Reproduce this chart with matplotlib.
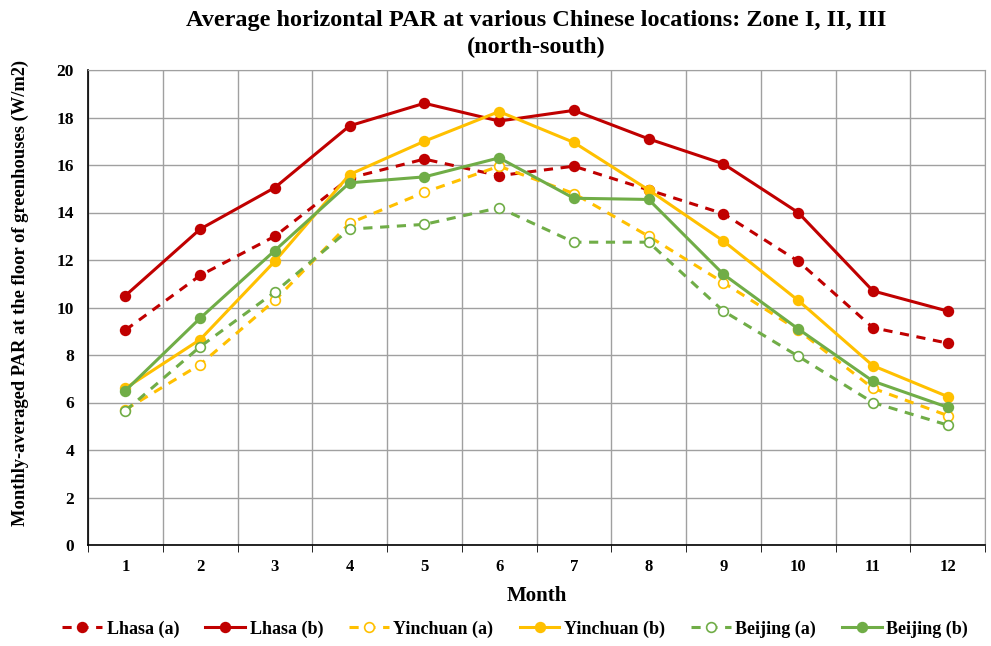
import numpy as np
from matplotlib import pyplot as plt

plt.rcParams['font.family'] = ['Liberation Serif', 'DejaVu Serif']
plt.rcParams['font.weight'] = 'bold'

months = np.arange(1, 13)
lhasa_a = [9.05, 11.35, 13.0, 15.45, 16.25, 15.55, 15.95, 14.95, 13.95, 11.95, 9.15, 8.5]
lhasa_b = [10.5, 13.3, 15.05, 17.65, 18.6, 17.85, 18.3, 17.1, 16.05, 14.0, 10.7, 9.85]
yinchuan_a = [5.7, 7.6, 10.3, 13.55, 14.85, 15.95, 14.8, 13.0, 11.05, 9.05, 6.6, 5.45]
yinchuan_b = [6.6, 8.65, 11.95, 15.6, 17.0, 18.25, 16.95, 14.95, 12.8, 10.3, 7.55, 6.25]
beijing_a = [5.65, 8.35, 10.65, 13.3, 13.5, 14.2, 12.75, 12.75, 9.85, 7.95, 6.0, 5.05]
beijing_b = [6.5, 9.55, 12.4, 15.25, 15.5, 16.3, 14.6, 14.55, 11.4, 9.1, 6.9, 5.8]

red = '#C00000'
yellow = '#FFC000'
green = '#70AD47'

fig = plt.figure(figsize=(9.91, 6.46), dpi=100)
ax = fig.add_axes([88 / 991, 1 - 545 / 646, 897 / 991, 475 / 646])

series = [
    ('Lhasa (a)', lhasa_a, red, '--', red),
    ('Lhasa (b)', lhasa_b, red, '-', red),
    ('Yinchuan (a)', yinchuan_a, yellow, '--', 'white'),
    ('Yinchuan (b)', yinchuan_b, yellow, '-', yellow),
    ('Beijing (a)', beijing_a, green, '--', 'white'),
    ('Beijing (b)', beijing_b, green, '-', green),
]
for name, vals, c, ls, fc in series:
    ax.plot(months, vals, color=c, linestyle=ls, linewidth=2.2, dashes=(3, 2.5) if ls == '--' else (None, None),
            marker='o', markersize=7, markerfacecolor=fc, markeredgecolor=c, markeredgewidth=1.2,
            label=name)

ax.set_xlim(0.5, 12.5)
ax.set_ylim(0, 20)
ax.set_yticks(np.arange(0, 21, 2))
ax.set_xticks(months)
ax.set_xticks(np.arange(0.5, 12.6, 1), minor=True)
ax.tick_params(axis='x', which='major', length=0, labelsize=12, pad=10)
ax.tick_params(axis='x', which='minor', length=5, color='black')
ax.tick_params(axis='y', labelsize=12.5, length=0, pad=10)
ax.grid(True, which='minor', axis='x', color='#A0A0A0', linewidth=1)
ax.grid(True, which='major', axis='y', color='#A0A0A0', linewidth=1)
ax.set_axisbelow(True)
for s in ['top', 'right']:
    ax.spines[s].set_color('#A0A0A0')
for s in ['left', 'bottom']:
    ax.spines[s].set_color('black')
    ax.spines[s].set_linewidth(1.2)

ax.set_xlabel('Month', fontsize=15, fontweight='bold', labelpad=8)
ax.set_ylabel('Monthly-averaged PAR at the floor of greenhouses (W/m2)', fontsize=13.3, fontweight='bold')
ax.yaxis.set_label_coords(-0.066, 0.53)
ax.set_title('Average horizontal PAR at various Chinese locations: Zone I, II, III\n(north-south)',
             fontsize=17.5, fontweight='bold', pad=12, linespacing=1.4)

leg = fig.legend(loc='lower center', bbox_to_anchor=(0.52, -0.012), ncol=6, frameon=False,
                 fontsize=13, handlelength=2.2, columnspacing=1.45, handletextpad=0.25)

fig.savefig('out.png', dpi=100)
